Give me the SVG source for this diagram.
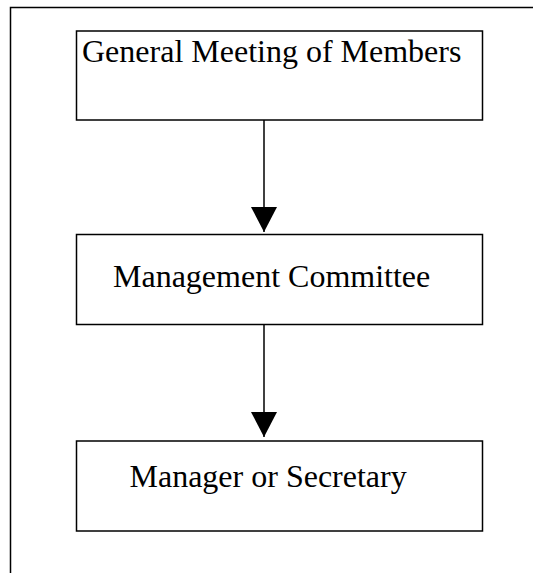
<svg xmlns="http://www.w3.org/2000/svg" width="533" height="573" viewBox="0 0 533 573">
  <style>
    .frame { fill: none; stroke: #000; stroke-width: 1.5; }
    .box { fill: #fff; stroke: #000; stroke-width: 1.5; }
    .label { font-family: "Liberation Serif", "Times New Roman", serif; font-size: 32px; fill: #000; }
    .conn { stroke: #000; stroke-width: 1.5; fill: none; marker-end: url(#head); }
  </style>
  <defs>
    <marker id="head" viewBox="0 0 25 26" refX="25" refY="13" markerWidth="25" markerHeight="26" markerUnits="userSpaceOnUse" orient="auto">
      <path d="M0,0 L25,13 L0,26 Z" fill="#000"/>
    </marker>
  </defs>

  <!-- page frame (open at right and bottom) -->
  <path class="frame" d="M10.5,573 V7.5 H533"/>

  <g id="connectors">
    <line class="conn" x1="264" y1="120" x2="264" y2="232"/>
    <line class="conn" x1="264" y1="324" x2="264" y2="437"/>
  </g>

  <g id="general-meeting">
    <rect class="box" x="76.5" y="31" width="406" height="89"/>
    <text class="label" x="82" y="62">General Meeting of Members</text>
  </g>

  <g id="management-committee">
    <rect class="box" x="76.5" y="234.5" width="406" height="90"/>
    <text class="label" x="113" y="287">Management Committee</text>
  </g>

  <g id="manager-secretary">
    <rect class="box" x="76.5" y="441" width="406" height="90"/>
    <text class="label" x="129.5" y="487">Manager or Secretary</text>
  </g>
</svg>
